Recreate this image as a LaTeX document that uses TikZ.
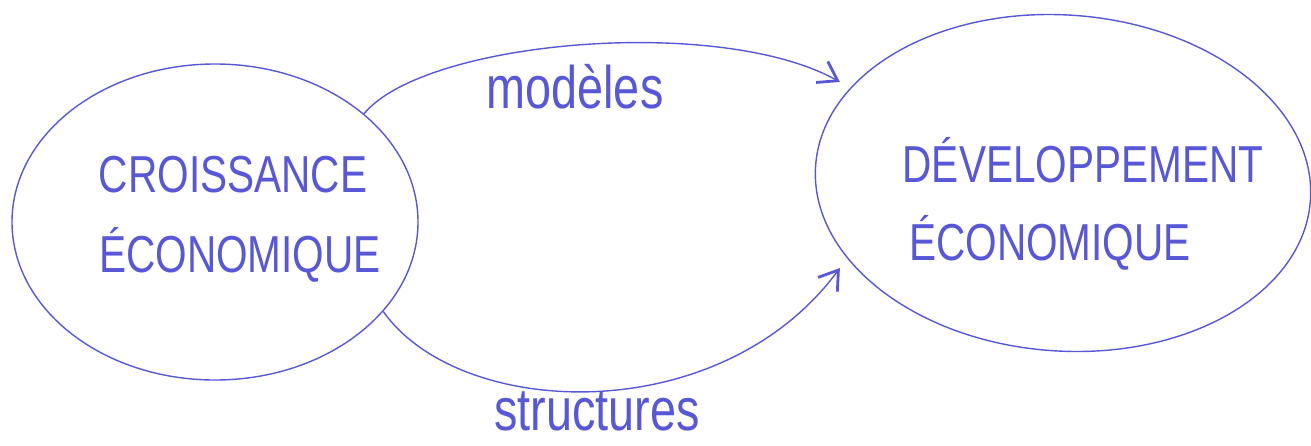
\documentclass[tikz,border=0pt]{standalone}
\usepackage{fontspec}
\newfontfamily\handfont[FakeStretch=0.78]{Liberation Sans}
\usetikzlibrary{shapes.geometric,arrows.meta}
\definecolor{ink}{RGB}{88,88,214}
\tikzset{
  blob/.style={draw=ink, line width=0.7pt, ellipse, inner sep=0pt},
  caps/.style={text=ink, font=\handfont\fontsize{26}{30}\selectfont, inner sep=0pt, anchor=base},
  word/.style={text=ink, font=\handfont\fontsize{30}{34}\selectfont, inner sep=0pt, anchor=base},
  link/.style={draw=ink, line width=0.7pt, -{Straight Barb[length=9pt,width=12pt,line width=1.4pt]}}
}
\begin{document}
\begin{tikzpicture}[x=0.5pt,y=-0.5pt]
\useasboundingbox (0,0) rectangle (1311,445);
% blobs
\node[blob, minimum width=203pt, minimum height=158pt] (crois) at (215,222) {};
\node[blob, minimum width=248pt, minimum height=168pt, rotate=-4] (dev) at (1063,183) {};
% texts
\node[caps] (t1) at (233,192) {CROISSANCE};
\node[caps] (t2) at (240,272) {ÉCONOMIQUE};
\node[caps] (t3) at (1083,182) {DÉVELOPPEMENT};
\node[caps] (t4) at (1050,260) {ÉCONOMIQUE};
% connectors
\draw[link] (crois.36) .. controls (425,40) and (720,15) .. ([xshift=-8pt]dev.158);
\draw[link] (crois.-28) .. controls (460,420) and (720,430) .. ([xshift=-6pt,yshift=-2pt]dev.205);
% labels
\node[word] (m) at (575,108) {modèles};
\node[word] (s) at (597,430) {structures};
\end{tikzpicture}
\end{document}
